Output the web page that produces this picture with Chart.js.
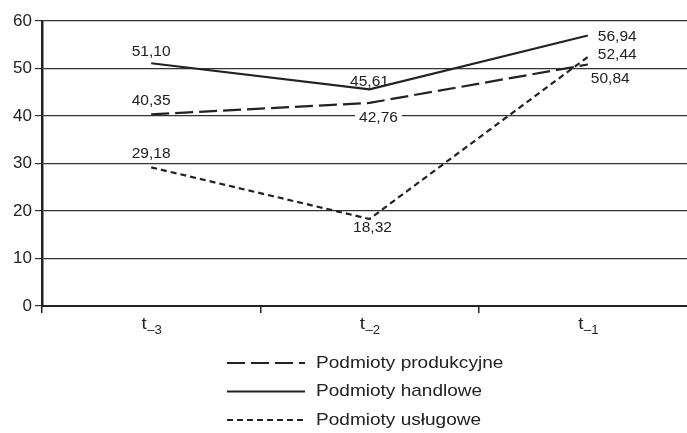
<!DOCTYPE html>
<html>
<head>
<meta charset="utf-8">
<script src="https://cdn.jsdelivr.net/npm/chart.js@4.4.1/dist/chart.umd.min.js"></script>
<style>
  html, body { margin: 0; padding: 0; background: #fff; overflow: hidden; }
  #okno { width: 687px; height: 433px; overflow: hidden; }
  #wrap { width: 697px; height: 433px; }
</style>
</head>
<body>
<div id="okno"><div id="wrap"><canvas id="grafico"></canvas></div></div>
<script>
// dane z wykresu
var okresy = ['t–3', 't–2', 't–1'];
var nazwySerii = ['Podmioty produkcyjne', 'Podmioty handlowe', 'Podmioty usługowe'];
var produkcyjne = [40.35, 42.76, 50.84];
var handlowe = [51.10, 45.61, 56.94];
var uslugowe = [29.18, 18.32, 52.44];
var osY = [0, 10, 20, 30, 40, 50, 60];

// przesunięcia etykiet (dx, dy, wyrównanie) dla każdej serii
var etykietyPoz = [
  [[0, -13, 'center'], [9, 15, 'center'], [3, 15, 'left']],
  [[0, -11, 'center'], [0, -7, 'center'], [10, 2, 'left']],
  [[0, -13, 'center'], [3, 9, 'center'], [10, -2, 'left']]
];

var czcionka = '"Liberation Sans", Arial, Helvetica, sans-serif';
var kolor = '#222';

function formatuj(v) {
  return v.toFixed(2).replace('.', ',');
}

// tekst lekko rozciągnięty w poziomie (jak w oryginale)
function tekstSzeroki(ctx, txt, x, y, align, sx) {
  ctx.save();
  ctx.translate(x, y);
  ctx.scale(sx, 1);
  ctx.textAlign = align;
  ctx.fillText(txt, 0, 0);
  ctx.restore();
}

// etykiety wartości przy punktach
var etykietyPlugin = {
  id: 'etykiety',
  afterDatasetsDraw: function (chart) {
    var ctx = chart.ctx;
    ctx.save();
    ctx.font = '14px ' + czcionka;
    ctx.textBaseline = 'middle';
    chart.data.datasets.forEach(function (ds, i) {
      var meta = chart.getDatasetMeta(i);
      meta.data.forEach(function (p, j) {
        var poz = etykietyPoz[i][j];
        var txt = formatuj(ds.data[j]);
        var w = ctx.measureText(txt).width * 1.11;
        var x = p.x + poz[0];
        var y = p.y + poz[1];
        var lx = poz[2] === 'center' ? x - w / 2 : x;
        if (i === 0 && j === 1) {
          ctx.fillStyle = '#fff';
          ctx.fillRect(lx - 4, y - 8, w + 8, 16);
        }
        ctx.fillStyle = kolor;
        tekstSzeroki(ctx, txt, x, y, poz[2], 1.11);
      });
    });
    ctx.restore();
  }
};

// podpisy osi X z indeksem dolnym
var osXPlugin = {
  id: 'podpisyX',
  afterDraw: function (chart) {
    var ctx = chart.ctx;
    var skala = chart.scales.x;
    ctx.save();
    ctx.fillStyle = kolor;
    ctx.textBaseline = 'alphabetic';
    okresy.forEach(function (etykieta, i) {
      var x = skala.getPixelForValue(i);
      var glowny = etykieta.charAt(0);
      var indeks = etykieta.slice(1);
      ctx.font = '17px ' + czcionka;
      var w1 = ctx.measureText(glowny).width;
      ctx.font = '12px ' + czcionka;
      var w2 = ctx.measureText(indeks).width * 1.1;
      var start = x - (w1 + w2) / 2;
      ctx.font = '17px ' + czcionka;
      tekstSzeroki(ctx, glowny, start, skala.bottom - 7, 'left', 1.1);
      ctx.font = '12px ' + czcionka;
      tekstSzeroki(ctx, indeks, start + w1 + 1, skala.bottom - 2, 'left', 1.1);
    });
    ctx.restore();
  }
};

// legenda pionowa pod wykresem
var legendaPlugin = {
  id: 'legendaPionowa',
  afterDraw: function (chart) {
    var ctx = chart.ctx;
    var x0 = 227;
    ctx.save();
    ctx.font = '17px ' + czcionka;
    ctx.textBaseline = 'middle';
    chart.data.datasets.forEach(function (ds, i) {
      var y = 363 + i * 28.5;
      ctx.strokeStyle = ds.borderColor;
      ctx.lineWidth = ds.borderWidth;
      ctx.setLineDash(ds.borderDash || []);
      ctx.beginPath();
      ctx.moveTo(x0, y);
      ctx.lineTo(x0 + 78, y);
      ctx.stroke();
      ctx.setLineDash([]);
      ctx.fillStyle = kolor;
      tekstSzeroki(ctx, ds.label, x0 + 89, y, 'left', 1.12);
    });
    ctx.restore();
  }
};

const grafico = document.getElementById('grafico');

new Chart(grafico, {
  type: 'line',
  data: {
    labels: okresy,
    datasets: [{
      label: nazwySerii[0],
      data: produkcyjne,
      borderColor: kolor,
      borderWidth: 2.2,
      borderDash: [18, 6],
      pointRadius: 0,
      tension: 0
    }, {
      label: nazwySerii[1],
      data: handlowe,
      borderColor: kolor,
      borderWidth: 2.2,
      pointRadius: 0,
      tension: 0
    }, {
      label: nazwySerii[2],
      data: uslugowe,
      borderColor: kolor,
      borderWidth: 2.2,
      borderDash: [6, 4],
      pointRadius: 0,
      tension: 0
    }]
  },
  options: {
    responsive: true,
    maintainAspectRatio: false,
    animation: false,
    layout: {
      padding: { top: 21, right: 0, bottom: 97, left: 4 }
    },
    plugins: {
      legend: { display: false },
      tooltip: { enabled: false }
    },
    scales: {
      x: {
        offset: true,
        afterFit: function (axis) { axis.height = 30; },
        grid: {
          offset: true,
          drawOnChartArea: false,
          drawTicks: true,
          tickLength: 7,
          color: kolor,
          lineWidth: 1.5
        },
        border: { color: kolor, width: 2 },
        ticks: { display: false }
      },
      y: {
        min: 0,
        max: 60,
        afterFit: function (axis) { axis.width = 38; },
        afterBuildTicks: function (axis) {
          axis.ticks = osY.map(function (v) { return { value: v }; });
        },
        grid: {
          color: '#333',
          lineWidth: 1.2,
          tickLength: 7
        },
        border: { color: kolor, width: 2.5 },
        ticks: {
          color: kolor,
          font: { family: czcionka, size: 17 },
          padding: 3
        }
      }
    }
  },
  plugins: [etykietyPlugin, osXPlugin, legendaPlugin]
});
</script>
</body>
</html>
